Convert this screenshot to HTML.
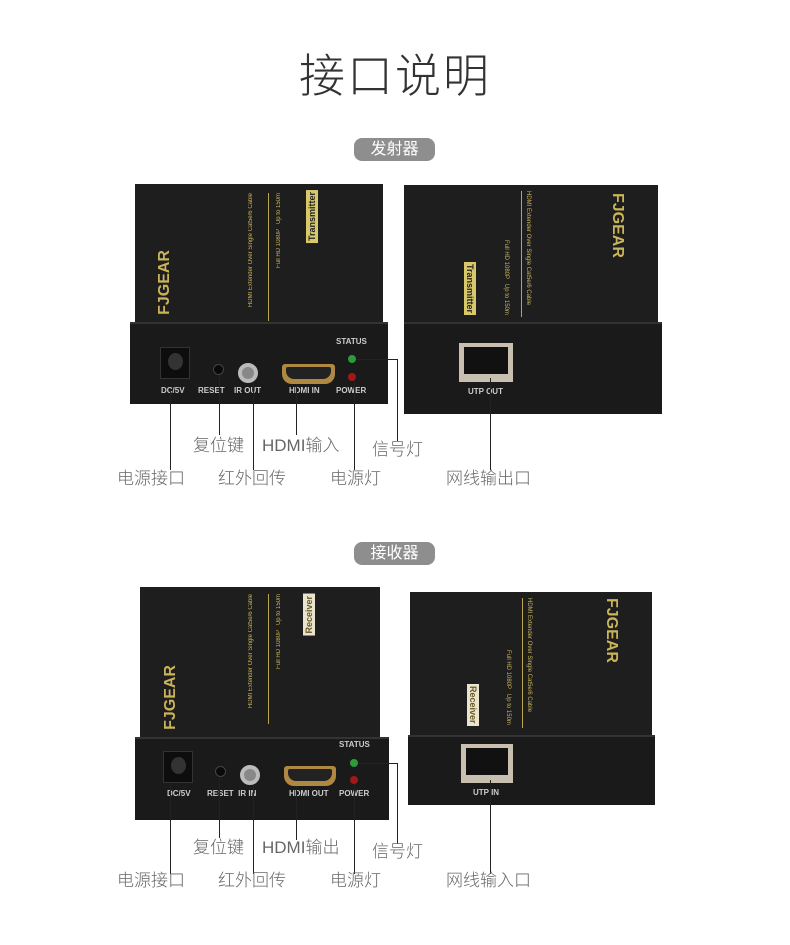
<!DOCTYPE html>
<html><head><meta charset="utf-8"><style>
*{margin:0;padding:0;box-sizing:border-box}
body{width:790px;height:945px;background:#fff;position:relative;overflow:hidden;font-family:"Liberation Sans","Noto Sans CJK SC",sans-serif}
.a{position:absolute}
.title{left:0;width:790px;top:50px;text-align:center;font-size:46px;font-weight:300;color:#333;letter-spacing:2px;line-height:52px}
.pill{background:#8e8e8e;color:#fff;border-radius:8px;font-size:16px;text-align:center;line-height:23px;width:81px;height:23px}
.top{background:#1e1e1e}
.front{background:#1a1a1a;border-top:2px solid #333}
.lbl{font-size:17px;color:#666;font-weight:300;white-space:nowrap;line-height:20px}
.ln{background:#222}
.small{font-size:8px;color:#ccc;font-weight:bold;white-space:nowrap}
.gold{color:#c9b45a}
.vt{writing-mode:vertical-rl;white-space:nowrap}
</style></head><body>
<div class="a title">接口说明</div>

<!-- ========== TRANSMITTER ========== -->
<div class="a pill" style="left:354px;top:138px">发射器</div>
<div class="a top" style="left:135px;top:184px;width:248px;height:140px"></div>
<div class="a gold vt" style="left:156px;top:250px;font-size:16px;font-weight:bold;transform:rotate(180deg)">FJGEAR</div>
<div class="a gold vt" style="left:248px;top:193px;font-size:6px;transform:rotate(180deg)">HDMI Extender Over Single Cat5e/6 Cable</div>
<div class="a" style="left:268px;top:193px;width:1px;height:128px;background:#b9a550"></div>
<div class="a gold vt" style="left:276px;top:193px;font-size:6px;transform:rotate(180deg)">Full HD 1080P &nbsp; Up to 150m</div>
<div class="a vt" style="left:306px;top:190px;font-size:9px;font-weight:bold;background:#d8c86a;color:#222;padding:2px 1px;transform:rotate(180deg)">Transmitter</div>
<div class="a front" style="left:130px;top:322px;width:258px;height:82px"></div>
<div class="a" style="left:160px;top:347px;width:30px;height:32px;background:#0d0d0d;border:1px solid #333"></div>
<div class="a" style="left:168px;top:353px;width:15px;height:17px;border-radius:50%;background:#333"></div>
<div class="a" style="left:213px;top:364px;width:11px;height:11px;border-radius:50%;border:1px solid #444;background:#0a0a0a"></div>
<div class="a" style="left:238px;top:363px;width:20px;height:20px;border-radius:50%;background:#888;border:4px solid #bbb"></div>
<div class="a" style="left:282px;top:364px;width:53px;height:20px;background:#b08840;border-radius:3px 3px 10px 10px"></div>
<div class="a" style="left:286px;top:367px;width:45px;height:12px;background:#222;border-radius:2px 2px 8px 8px"></div>
<div class="a" style="left:348px;top:355px;width:8px;height:8px;border-radius:50%;background:#2e9a3a"></div>
<div class="a" style="left:348px;top:373px;width:8px;height:8px;border-radius:50%;background:#a01818"></div>
<div class="a small" style="left:336px;top:337px">STATUS</div>
<div class="a small" style="left:161px;top:386px">DC/5V</div>
<div class="a small" style="left:198px;top:386px">RESET</div>
<div class="a small" style="left:234px;top:386px">IR OUT</div>
<div class="a small" style="left:289px;top:386px">HDMI IN</div>
<div class="a small" style="left:336px;top:386px">POWER</div>
<div class="a top" style="left:404px;top:185px;width:254px;height:138px"></div>
<div class="a gold vt" style="left:608px;top:193px;font-size:16px;font-weight:bold">FJGEAR</div>
<div class="a gold vt" style="left:525px;top:191px;font-size:6px">HDMI Extender Over Single Cat5e/6 Cable</div>
<div class="a" style="left:521px;top:191px;width:1px;height:126px;background:#b9a550"></div>
<div class="a gold vt" style="left:503px;top:240px;font-size:6px">Full HD 1080P &nbsp; Up to 150m</div>
<div class="a vt" style="left:464px;top:262px;font-size:9px;font-weight:bold;background:#d8c86a;color:#222;padding:2px 1px">Transmitter</div>
<div class="a front" style="left:404px;top:322px;width:258px;height:92px"></div>
<div class="a" style="left:459px;top:343px;width:54px;height:39px;background:#c9bfb0"></div>
<div class="a" style="left:464px;top:347px;width:44px;height:27px;background:#111"></div>
<div class="a small" style="left:468px;top:387px">UTP OUT</div>
<div class="a ln" style="left:170px;top:390px;width:1px;height:80px"></div>
<div class="a ln" style="left:219px;top:375px;width:1px;height:60px"></div>
<div class="a ln" style="left:253px;top:382px;width:1px;height:88px"></div>
<div class="a ln" style="left:296px;top:384px;width:1px;height:51px"></div>
<div class="a ln" style="left:354px;top:381px;width:1px;height:89px"></div>
<div class="a ln" style="left:356px;top:359px;width:42px;height:1px"></div>
<div class="a ln" style="left:397px;top:359px;width:1px;height:82px"></div>
<div class="a ln" style="left:490px;top:378px;width:1px;height:92px"></div>
<div class="a lbl" style="left:193px;top:436px">复位键</div>
<div class="a lbl" style="left:262px;top:436px">HDMI输入</div>
<div class="a lbl" style="left:372px;top:440px">信号灯</div>
<div class="a lbl" style="left:117px;top:469px">电源接口</div>
<div class="a lbl" style="left:218px;top:469px">红外回传</div>
<div class="a lbl" style="left:330px;top:469px">电源灯</div>
<div class="a lbl" style="left:446px;top:469px">网线输出口</div>

<!-- ========== RECEIVER ========== -->
<div class="a pill" style="left:354px;top:542px">接收器</div>
<div class="a top" style="left:140px;top:587px;width:240px;height:152px"></div>
<div class="a gold vt" style="left:162px;top:665px;font-size:16px;font-weight:bold;transform:rotate(180deg)">FJGEAR</div>
<div class="a gold vt" style="left:248px;top:594px;font-size:6px;transform:rotate(180deg)">HDMI Extender Over Single Cat5e/6 Cable</div>
<div class="a" style="left:268px;top:594px;width:1px;height:130px;background:#b9a550"></div>
<div class="a gold vt" style="left:276px;top:594px;font-size:6px;transform:rotate(180deg)">Full HD 1080P &nbsp; Up to 150m</div>
<div class="a vt" style="left:303px;top:594px;font-size:9px;font-weight:bold;background:#e8e4d0;color:#6a5a20;padding:2px 1px;transform:rotate(180deg)">Receiver</div>
<div class="a front" style="left:135px;top:737px;width:254px;height:83px"></div>
<div class="a" style="left:163px;top:751px;width:30px;height:32px;background:#0d0d0d;border:1px solid #333"></div>
<div class="a" style="left:171px;top:757px;width:15px;height:17px;border-radius:50%;background:#333"></div>
<div class="a" style="left:215px;top:766px;width:11px;height:11px;border-radius:50%;border:1px solid #444;background:#0a0a0a"></div>
<div class="a" style="left:240px;top:765px;width:20px;height:20px;border-radius:50%;background:#888;border:4px solid #bbb"></div>
<div class="a" style="left:284px;top:766px;width:52px;height:20px;background:#b08840;border-radius:3px 3px 10px 10px"></div>
<div class="a" style="left:288px;top:769px;width:44px;height:12px;background:#222;border-radius:2px 2px 8px 8px"></div>
<div class="a" style="left:350px;top:759px;width:8px;height:8px;border-radius:50%;background:#2e9a3a"></div>
<div class="a" style="left:350px;top:776px;width:8px;height:8px;border-radius:50%;background:#a01818"></div>
<div class="a small" style="left:339px;top:740px">STATUS</div>
<div class="a small" style="left:167px;top:789px">DC/5V</div>
<div class="a small" style="left:207px;top:789px">RESET &nbsp;IR IN</div>
<div class="a small" style="left:289px;top:789px">HDMI OUT</div>
<div class="a small" style="left:339px;top:789px">POWER</div>
<div class="a top" style="left:410px;top:592px;width:242px;height:145px"></div>
<div class="a gold vt" style="left:602px;top:598px;font-size:16px;font-weight:bold">FJGEAR</div>
<div class="a gold vt" style="left:526px;top:598px;font-size:6px">HDMI Extender Over Single Cat5e/6 Cable</div>
<div class="a" style="left:522px;top:598px;width:1px;height:130px;background:#b9a550"></div>
<div class="a gold vt" style="left:505px;top:650px;font-size:6px">Full HD 1080P &nbsp; Up to 150m</div>
<div class="a vt" style="left:467px;top:684px;font-size:9px;font-weight:bold;background:#e8e4d0;color:#6a5a20;padding:2px 1px">Receiver</div>
<div class="a front" style="left:408px;top:735px;width:247px;height:70px"></div>
<div class="a" style="left:461px;top:744px;width:52px;height:39px;background:#c9bfb0"></div>
<div class="a" style="left:466px;top:748px;width:42px;height:27px;background:#111"></div>
<div class="a small" style="left:473px;top:788px">UTP IN</div>
<div class="a ln" style="left:170px;top:782px;width:1px;height:92px"></div>
<div class="a ln" style="left:219px;top:778px;width:1px;height:60px"></div>
<div class="a ln" style="left:253px;top:785px;width:1px;height:89px"></div>
<div class="a ln" style="left:296px;top:786px;width:1px;height:54px"></div>
<div class="a ln" style="left:354px;top:784px;width:1px;height:90px"></div>
<div class="a ln" style="left:358px;top:763px;width:40px;height:1px"></div>
<div class="a ln" style="left:397px;top:763px;width:1px;height:81px"></div>
<div class="a ln" style="left:490px;top:780px;width:1px;height:94px"></div>
<div class="a lbl" style="left:193px;top:838px">复位键</div>
<div class="a lbl" style="left:262px;top:838px">HDMI输出</div>
<div class="a lbl" style="left:372px;top:842px">信号灯</div>
<div class="a lbl" style="left:117px;top:871px">电源接口</div>
<div class="a lbl" style="left:218px;top:871px">红外回传</div>
<div class="a lbl" style="left:330px;top:871px">电源灯</div>
<div class="a lbl" style="left:446px;top:871px">网线输入口</div>
</body></html>
